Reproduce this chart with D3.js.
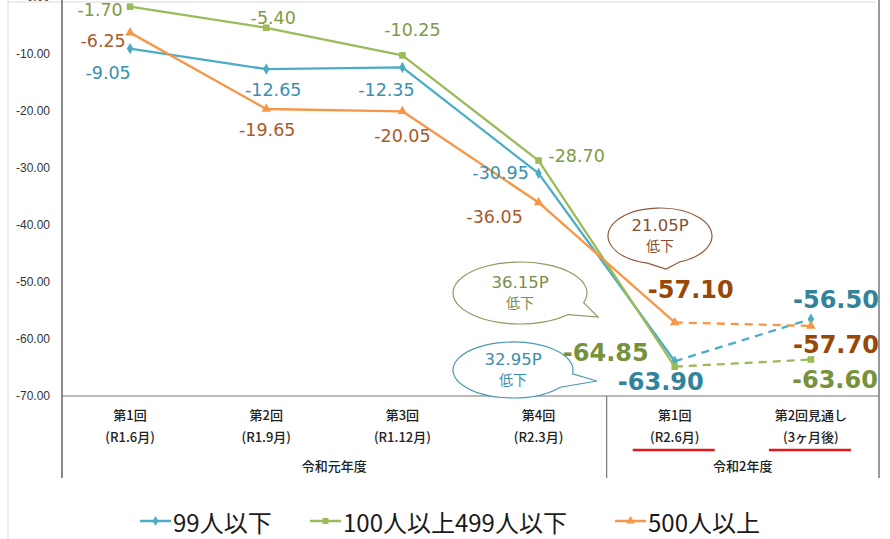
<!DOCTYPE html>
<html lang="ja">
<head>
<meta charset="utf-8">
<script src="https://cdn.jsdelivr.net/npm/d3@7"></script>
<style>
  html, body { margin: 0; padding: 0; background: #fff; }
  svg { display: block; }
</style>
</head>
<body>
<svg id="chart" width="890" height="539"></svg>
<script>
// ---- data ----
const categories = ["第1回|(R1.6月)", "第2回|(R1.9月)", "第3回|(R1.12月)", "第4回|(R2.3月)", "第1回|(R2.6月)", "第2回見通し|(3ヶ月後)"];
const fiscalYears = ["令和元年度", "令和2年度"];
const fiscalYearSpan = [[0, 3], [4, 5]];
const underlined = [4, 5];
const seriesNames = ["99人以下", "100人以上499人以下", "500人以上"];
const small = [-9.05, -12.65, -12.35, -30.95, -63.90, -56.50];
const medium = [-1.70, -5.40, -10.25, -28.70, -64.85, -63.60];
const large = [-6.25, -19.65, -20.05, -36.05, -57.10, -57.70];
const yTicks = [0, -10, -20, -30, -40, -50, -60, -70];
const dropNotes = ["32.95P|低下", "36.15P|低下", "21.05P|低下"];

// ---- layout ----
const svg = d3.select("#chart");
const plotLeft = 62, plotRight = 879, plotBottom = 396, groupBottom = 478;

const x = d3.scaleBand().domain(d3.range(categories.length)).range([plotLeft, plotRight]).padding(0);
const cx = i => x(i) + x.bandwidth() / 2;
const y = d3.scaleLinear().domain([0, -70]).range([-3, plotBottom]);

const series = [
  { name: seriesNames[0], values: small, line: "#4bacc6", text: "#3b8fb0", bold: "#31849b", symbol: d3.symbolDiamond, size: 36,
    offsets: [[-22, 24], [7, 21], [-16, 23], [-38, 0], [-14, 21], [25, -19]] },
  { name: seriesNames[1], values: medium, line: "#9bbb59", text: "#7e9a45", bold: "#76923c", symbol: d3.symbolSquare, size: 44,
    offsets: [[-30, 3], [7, -10], [10, -25], [38, -5], [-69, -14], [24, 20]] },
  { name: seriesNames[2], values: large, line: "#f79646", text: "#a85a2a", bold: "#984807", symbol: d3.symbolTriangle, size: 40,
    offsets: [[-27, 8], [1, 21], [0, 25], [-44, 15], [16, -32], [25, 19]] }
];

// outer frame
svg.append("line").attr("x1", 8).attr("x2", 8).attr("y1", 0).attr("y2", 539).attr("stroke", "#e4e4e4").attr("stroke-width", 1.5);
svg.append("line").attr("x1", 8).attr("x2", 876).attr("y1", 2).attr("y2", 2).attr("stroke", "#ececec").attr("stroke-width", 2);

// y axis ticks
const yAxis = d3.axisLeft(y).tickValues(yTicks).tickSize(0).tickPadding(10).tickFormat(d => d.toFixed(2));
const yg = svg.append("g").attr("transform", `translate(${plotLeft - 2},0)`).call(yAxis);
yg.select(".domain").remove();
yg.selectAll("text").attr("font-family", "Liberation Sans, Arial, sans-serif").attr("font-size", 12).attr("fill", "#333");

// axis lines and group dividers
svg.append("line").attr("x1", plotLeft).attr("x2", plotLeft).attr("y1", 0).attr("y2", groupBottom).attr("stroke", "#8a8a8a").attr("stroke-width", 2);
svg.append("line").attr("x1", plotRight).attr("x2", plotRight).attr("y1", 0).attr("y2", groupBottom).attr("stroke", "#777").attr("stroke-width", 1.5);
svg.append("line").attr("x1", plotLeft).attr("x2", plotRight).attr("y1", plotBottom).attr("y2", plotBottom).attr("stroke", "#777").attr("stroke-width", 1.2);
fiscalYearSpan.slice(1).forEach(([a]) => {
  svg.append("line").attr("x1", x(a)).attr("x2", x(a)).attr("y1", plotBottom).attr("y2", groupBottom).attr("stroke", "#777").attr("stroke-width", 1.2);
});

// category labels
const catFont = "'Noto Sans CJK JP', 'Noto Sans', sans-serif";
categories.forEach((c, i) => {
  const [l1, l2] = c.split("|");
  svg.append("text").attr("x", cx(i)).attr("y", plotBottom + 24).attr("text-anchor", "middle")
    .attr("font-family", catFont).attr("font-size", 13).attr("font-weight", 500).attr("fill", "#222").text(l1);
  svg.append("text").attr("x", cx(i)).attr("y", plotBottom + 46).attr("text-anchor", "middle")
    .attr("font-family", catFont).attr("font-size", 13).attr("font-weight", 500).attr("fill", "#222").text(l2);
});
underlined.forEach(i => {
  svg.append("line").attr("x1", cx(i) - 42).attr("x2", cx(i) + 40).attr("y1", plotBottom + 54).attr("y2", plotBottom + 54)
    .attr("stroke", "#e8141b").attr("stroke-width", 2.5);
});
fiscalYears.forEach((fy, k) => {
  const [a, b] = fiscalYearSpan[k];
  svg.append("text").attr("x", (x(a) + x(b) + x.bandwidth()) / 2).attr("y", plotBottom + 75).attr("text-anchor", "middle")
    .attr("font-family", catFont).attr("font-size", 13).attr("font-weight", 500).attr("fill", "#222").text(fy);
});

// speech bubbles (ellipse with a pointed tail)
function bubblePath(c, rx, ry, t1, t2, tip) {
  const p = t => [c[0] + rx * Math.cos(t * Math.PI / 180), c[1] + ry * Math.sin(t * Math.PI / 180)];
  const a = p(t2), b = p(t1);
  return `M${a[0]},${a[1]} A${rx},${ry} 0 1 1 ${b[0]},${b[1]} L${tip[0]},${tip[1]} Z`;
}
const bubbles = [
  { note: dropNotes[0], c: [513, 370], rx: 60, ry: 28, t1: 8, t2: 38, tip: [597, 381], stroke: "#4a9ab5", color: "#3d8ca8" },
  { note: dropNotes[1], c: [520, 293], rx: 67, ry: 31, t1: 18, t2: 44, tip: [598, 317], stroke: "#8c9a62", color: "#7a8d4c" },
  { note: dropNotes[2], c: [660, 236], rx: 52, ry: 28, t1: 68, t2: 104, tip: [666, 269], stroke: "#8e5a3c", color: "#8a4f30" }
];
bubbles.forEach(bb => {
  svg.append("path").attr("d", bubblePath(bb.c, bb.rx, bb.ry, bb.t1, bb.t2, bb.tip))
    .attr("fill", "#fff").attr("stroke", bb.stroke).attr("stroke-width", 1.2);
  const [l1, l2] = bb.note.split("|");
  svg.append("text").attr("x", bb.c[0]).attr("y", bb.c[1] - 11).attr("text-anchor", "middle").attr("dominant-baseline", "central")
    .attr("font-family", "DejaVu Sans, sans-serif").attr("font-size", 16.5).attr("fill", bb.color).text(l1);
  svg.append("text").attr("x", bb.c[0]).attr("y", bb.c[1] + 9).attr("text-anchor", "middle").attr("dominant-baseline", "central")
    .attr("font-family", catFont).attr("font-size", 14).attr("fill", bb.color).text(l2);
});

// lines, markers and value labels
const lineGen = d3.line().x(d => cx(d.i)).y(d => y(d.v));
const solidCount = 5;
series.forEach(s => {
  const pts = s.values.map((v, i) => ({ i, v }));
  svg.append("path").attr("d", lineGen(pts.slice(0, solidCount))).attr("fill", "none")
    .attr("stroke", s.line).attr("stroke-width", 2.3).attr("stroke-linejoin", "round");
  svg.append("path").attr("d", lineGen(pts.slice(solidCount - 1))).attr("fill", "none")
    .attr("stroke", s.line).attr("stroke-width", 2.3).attr("stroke-dasharray", "8,6");
  svg.append("g").selectAll("path").data(pts).join("path")
    .attr("transform", d => `translate(${cx(d.i)},${y(d.v)})`)
    .attr("d", d3.symbol().type(s.symbol).size(s.size)).attr("fill", s.line);
});
series.forEach(s => {
  s.values.forEach((v, i) => {
    const big = i >= solidCount - 1;
    const [dx, dy] = s.offsets[i];
    svg.append("text").attr("x", cx(i) + dx).attr("y", y(v) + dy)
      .attr("text-anchor", "middle").attr("dominant-baseline", "central")
      .attr("font-family", "DejaVu Sans, sans-serif")
      .attr("font-size", big ? 24 : 17.5).attr("font-weight", big ? "bold" : "normal")
      .attr("fill", big ? s.bold : s.text).text(v.toFixed(2));
  });
});

// legend
const legendX = [140, 310, 615];
series.forEach((s, k) => {
  const g = svg.append("g").attr("transform", `translate(${legendX[k]},521)`);
  g.append("line").attr("x1", 0).attr("x2", 31).attr("stroke", s.line).attr("stroke-width", 2.5);
  g.append("path").attr("transform", "translate(15.5,0)").attr("d", d3.symbol().type(s.symbol).size(s.size * 0.8)).attr("fill", s.line);
  g.append("text").attr("x", 33).attr("y", 0).attr("dominant-baseline", "central")
    .attr("font-family", catFont).attr("font-size", 24).attr("fill", "#1a1a1a").text(s.name);
});
</script>
</body>
</html>
